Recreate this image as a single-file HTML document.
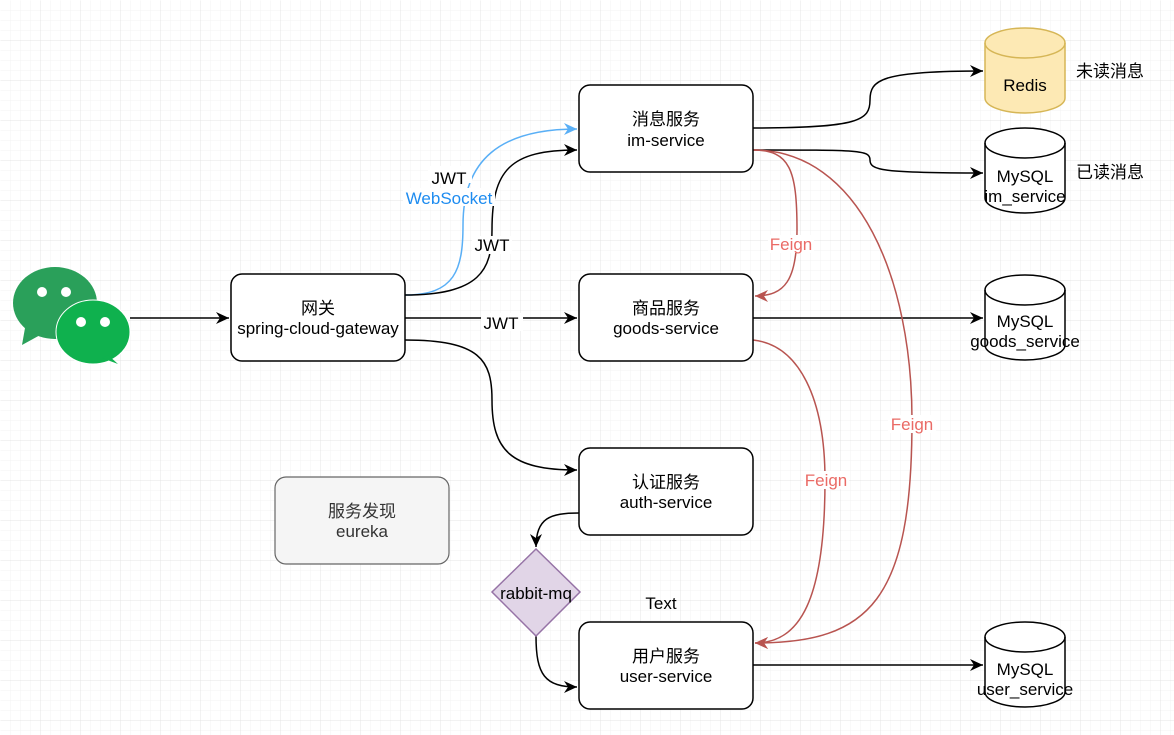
<!DOCTYPE html>
<html><head><meta charset="utf-8"><style>
html,body{margin:0;padding:0;background:#fff;}
svg{display:block;}
text{font-family:"Liberation Sans","Noto Sans CJK SC",sans-serif;font-size:17px;}
</style></head><body>
<svg width="1174" height="735" viewBox="0 0 1174 735" xmlns="http://www.w3.org/2000/svg">
<defs>
<pattern id="g1" width="10" height="10" patternUnits="userSpaceOnUse"><path d="M10 0H0V10" fill="none" stroke="#f3f3f3" stroke-width="1"/></pattern>
<pattern id="g2" width="40" height="40" patternUnits="userSpaceOnUse"><rect width="40" height="40" fill="url(#g1)"/><path d="M40 0H0V40" fill="none" stroke="#e4e4e4" stroke-width="1"/></pattern>
<marker id="ab" markerWidth="14" markerHeight="12" refX="13" refY="6" orient="auto" markerUnits="userSpaceOnUse"><path d="M0,0 L13,6 L0,12 L4,6Z" fill="#000"/></marker>
<marker id="abl" markerWidth="14" markerHeight="12" refX="13" refY="6" orient="auto" markerUnits="userSpaceOnUse"><path d="M0,0 L13,6 L0,12 L4,6Z" fill="#59aff6"/></marker>
<marker id="ar" markerWidth="14" markerHeight="12" refX="13" refY="6" orient="auto" markerUnits="userSpaceOnUse"><path d="M0,0 L13,6 L0,12 L4,6Z" fill="#b85450"/></marker>
</defs>
<rect x="0.5" y="0.5" width="1174" height="735" fill="url(#g2)"/>

<g>
<ellipse cx="55" cy="303" rx="42" ry="36" fill="#2aa05a"/>
<path d="M25,328 L22,345 L42,334Z" fill="#2aa05a"/>
<circle cx="42" cy="292" r="5" fill="#fff"/><circle cx="66" cy="292" r="5" fill="#fff"/>
<ellipse cx="93" cy="332" rx="37" ry="32" fill="#0fb14e" stroke="#fff" stroke-width="1"/>
<path d="M108,355 L118,364 L102,358Z" fill="#0fb14e"/>
<circle cx="81" cy="322" r="5" fill="#fff"/><circle cx="105" cy="322" r="5" fill="#fff"/>
</g>

<g fill="none" stroke-width="1.5">
<path d="M130,318 L229,318" stroke="#000" marker-end="url(#ab)"/>
<path d="M405,295 C455,295 463,270 463,225 C463,160 500,129 577,129" stroke="#59aff6" marker-end="url(#abl)"/>
<path d="M405,295 C480,295 492,270 492,230 C492,170 510,150 577,150" stroke="#000" marker-end="url(#ab)"/>
<path d="M405,318 L577,318" stroke="#000" marker-end="url(#ab)"/>
<path d="M405,340 C480,340 492,360 492,400 C492,450 510,470 577,470" stroke="#000" marker-end="url(#ab)"/>
<path d="M579,513 C550,513 536,518 536,547" stroke="#000" marker-end="url(#ab)"/>
<path d="M536,636 C536,675 545,687 577,687" stroke="#000" marker-end="url(#ab)"/>
<path d="M753,128 C860,128 870,120 870,100 C870,80 880,71 983,71" stroke="#000" marker-end="url(#ab)"/>
<path d="M753,150 C860,150 870,150 870,160 C870,170 880,173 983,173" stroke="#000" marker-end="url(#ab)"/>
<path d="M753,318 L983,318" stroke="#000" marker-end="url(#ab)"/>
<path d="M753,665 L983,665" stroke="#000" marker-end="url(#ab)"/>
<path d="M753,150 C790,150 797,170 797,230 C797,280 785,296 755,296" stroke="#b85450" marker-end="url(#ar)"/>
<path d="M753,150 C860,150 912,280 912,420 C912,600 870,643 755,643" stroke="#b85450" marker-end="url(#ar)"/>
<path d="M753,340 C800,345 825,400 825,480 C825,600 800,643 755,643" stroke="#b85450" marker-end="url(#ar)"/>
</g>

<g stroke="#000" stroke-width="1.5" fill="#fff">
<rect x="231" y="274" width="174" height="87" rx="11"/>
<rect x="579" y="85" width="174" height="87" rx="11"/>
<rect x="579" y="274" width="174" height="87" rx="11"/>
<rect x="579" y="448" width="174" height="87" rx="11"/>
<rect x="579" y="622" width="174" height="87" rx="11"/>
</g>
<rect x="275" y="477" width="174" height="87" rx="11" fill="#f5f5f5" stroke="#666" stroke-width="1.2"/>
<path d="M536,549 L580,592 L536,636 L492,592Z" fill="#e1d5e7" stroke="#9673a6" stroke-width="1.5"/>

<g stroke-width="1.5">
<path d="M985,43 A40,15 0 0 1 1065,43 L1065,98 A40,15 0 0 1 985,98Z" fill="#fde9b4" stroke="#d6b656"/>
<path d="M985,43 A40,15 0 0 0 1065,43" fill="none" stroke="#d6b656"/>
<g fill="#fff" stroke="#000">
<path d="M985,143 A40,15 0 0 1 1065,143 L1065,198 A40,15 0 0 1 985,198Z"/><path d="M985,143 A40,15 0 0 0 1065,143" fill="none"/>
<path d="M985,290 A40,15 0 0 1 1065,290 L1065,345 A40,15 0 0 1 985,345Z"/><path d="M985,290 A40,15 0 0 0 1065,290" fill="none"/>
<path d="M985,637 A40,15 0 0 1 1065,637 L1065,692 A40,15 0 0 1 985,692Z"/><path d="M985,637 A40,15 0 0 0 1065,637" fill="none"/>
</g>
</g>

<g fill="#fff">
<rect x="428" y="166" width="44" height="17"/><rect x="403" y="188" width="92" height="18"/>
<rect x="472" y="236" width="40" height="18"/><rect x="481" y="313" width="42" height="18"/>
<rect x="768" y="235" width="46" height="18"/><rect x="888" y="415" width="48" height="18"/><rect x="803" y="471" width="46" height="18"/>
</g>

<g text-anchor="middle" fill="#000">
<text x="318" y="314">网关</text><text x="318" y="334">spring-cloud-gateway</text>
<text x="666" y="125">消息服务</text><text x="666" y="146">im-service</text>
<text x="666" y="314">商品服务</text><text x="666" y="334">goods-service</text>
<text x="666" y="488">认证服务</text><text x="666" y="508">auth-service</text>
<text x="666" y="662">用户服务</text><text x="666" y="682">user-service</text>
<text x="362" y="517" fill="#333">服务发现</text><text x="362" y="537" fill="#333">eureka</text>
<text x="536" y="599">rabbit-mq</text>
<text x="661" y="609">Text</text>
<text x="1025" y="91">Redis</text>
<text x="1025" y="182">MySQL</text><text x="1025" y="202">im_service</text>
<text x="1025" y="327">MySQL</text><text x="1025" y="347">goods_service</text>
<text x="1025" y="675">MySQL</text><text x="1025" y="695">user_service</text>
<text x="1110" y="77">未读消息</text><text x="1110" y="178">已读消息</text>
<text x="449" y="184">JWT</text><text x="449" y="204" fill="#1e8cf0">WebSocket</text>
<text x="492" y="251">JWT</text><text x="501" y="329">JWT</text>
<text x="791" y="250" fill="#ea6b66">Feign</text>
<text x="912" y="430" fill="#ea6b66">Feign</text>
<text x="826" y="486" fill="#ea6b66">Feign</text>
</g>
</svg>
</body></html>
